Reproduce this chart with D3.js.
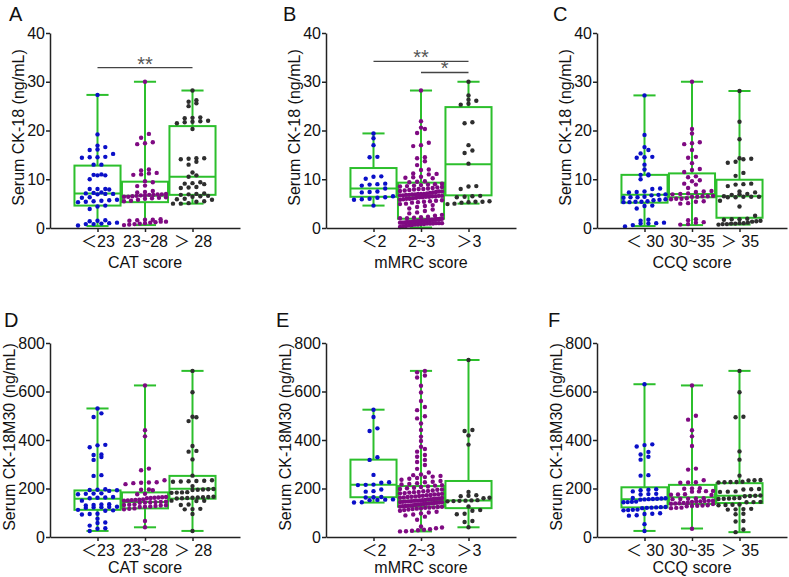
<!DOCTYPE html>
<html>
<head>
<meta charset="utf-8">
<script src="https://cdn.jsdelivr.net/npm/d3@7"></script>
<style>
  body { margin: 0; background: #fff; }
  text { font-family: "Liberation Sans", Arial, "Noto Sans CJK SC", sans-serif; }
</style>
</head>
<body>
<div id="chart"></div>
<script>
// Categories
const catCAT = ["＜23", "23~28", "＞ 28"];
const catMMRC = ["＜2", "2~3", "＞3"];
const catCCQ = ["＜ 30", "30~35", "＞ 35"];

const ticksCK18 = [0, 10, 20, 30, 40];
const ticksM30 = [0, 200, 400, 600, 800];

// Serum CK-18 by CAT score
const ck18CatLow = [27.3, 19.2, 16.9, 16.6, 16.1, 16.0, 15.2, 14.6, 14.5, 14.5, 14.4, 13.0, 13.0, 11.0, 10.9, 10.8, 10.8, 10.0, 8.0, 8.0, 8.0, 7.9, 7.3, 7.2, 7.1, 7.0, 7.0, 6.9, 6.3, 6.2, 5.8, 5.7, 5.6, 5.5, 5.4, 5.3, 4.6, 4.4, 3.9, 1.6, 1.5, 1.4, 1.1, 1.0, 0.9, 0.8, 0.8, 0.5];
const ck18CatMid = [30.0, 19.3, 18.5, 17.6, 17.4, 17.2, 12.0, 11.8, 11.3, 11.2, 11.0, 10.9, 9.6, 9.4, 8.7, 8.6, 7.6, 7.4, 7.3, 7.0, 6.9, 6.9, 6.8, 6.8, 6.7, 6.7, 6.6, 6.5, 6.4, 6.4, 6.3, 6.2, 6.1, 6.0, 5.8, 5.6, 5.5, 1.8, 1.7, 1.7, 1.6, 1.5, 1.3, 1.3, 1.2, 1.1, 1.0, 0.9, 0.8, 0.7, 0.6];
const ck18CatHigh = [28.2, 26.2, 25.9, 25.6, 25.0, 22.7, 22.6, 22.5, 22.0, 21.9, 21.8, 21.7, 21.5, 20.3, 14.3, 14.3, 14.2, 14.1, 13.6, 13.0, 11.4, 10.8, 10.5, 9.4, 9.2, 9.1, 9.0, 8.4, 8.3, 8.2, 7.1, 7.0, 6.9, 6.8, 6.6, 6.5, 6.4, 6.0, 5.9, 5.8, 5.5, 5.4, 5.1, 5.0, 5.0];

// Serum CK-18 by mMRC score
const ck18MrcLow = [19.4, 18.4, 17.0, 14.6, 14.5, 10.6, 10.5, 10.1, 9.1, 9.0, 8.9, 8.7, 8.1, 7.5, 7.4, 7.3, 6.5, 6.3, 6.2, 6.0, 5.9, 5.8, 4.6];
const ck18MrcMid = [28.2, 21.9, 20.6, 20.3, 19.5, 17.5, 17.0, 16.8, 14.5, 14.3, 13.7, 12.9, 12.0, 11.9, 11.2, 11.1, 11.0, 10.5, 10.4, 10.3, 10.2, 9.6, 9.5, 9.4, 9.1, 9.0, 8.9, 8.8, 8.7, 8.6, 8.5, 8.4, 8.3, 8.2, 8.1, 8.0, 8.0, 7.9, 7.8, 7.7, 7.6, 7.5, 7.5, 7.4, 7.3, 7.2, 7.1, 7.0, 7.0, 7.0, 6.9, 6.9, 6.8, 6.8, 6.7, 6.7, 6.6, 6.6, 6.5, 6.5, 6.4, 6.4, 6.3, 6.3, 6.2, 6.1, 6.0, 6.0, 5.9, 5.8, 5.7, 5.6, 5.5, 5.4, 5.3, 5.2, 5.0, 4.9, 4.7, 4.5, 4.3, 4.0, 3.8, 3.5, 3.2, 3.0, 2.7, 2.5, 2.3, 2.2, 2.1, 2.0, 2.0, 1.9, 1.9, 1.8, 1.8, 1.8, 1.7, 1.7, 1.7, 1.6, 1.6, 1.6, 1.5, 1.5, 1.5, 1.4, 1.4, 1.4, 1.3, 1.3, 1.3, 1.2, 1.2, 1.2, 1.2, 1.1, 1.1, 1.1, 1.1, 1.0, 1.0, 1.0, 0.9, 0.9, 0.9, 0.8, 0.8, 0.7, 0.7, 0.6, 0.5, 0.4, 0.3, 0.2];
const ck18MrcHigh = [30.0, 27.2, 26.3, 26.1, 25.5, 25.3, 21.7, 21.5, 17.0, 15.9, 15.4, 13.2, 8.6, 8.5, 8.0, 6.6, 6.5, 6.4, 6.3, 5.5, 5.4, 5.4, 5.3, 5.2, 5.0, 4.9];

// Serum CK-18 by CCQ score
const ck18CcqLow = [27.2, 19.1, 16.6, 16.0, 15.3, 14.6, 14.5, 14.4, 13.0, 12.0, 11.0, 10.9, 10.8, 10.0, 8.1, 8.0, 7.5, 7.4, 7.3, 6.9, 6.8, 6.7, 6.4, 6.3, 6.3, 6.2, 5.9, 5.8, 5.7, 5.5, 5.4, 5.4, 5.3, 5.3, 4.6, 4.5, 4.0, 1.7, 1.5, 1.1, 1.0, 0.9, 0.9, 0.6, 0.3];
const ck18CcqMid = [30.0, 20.3, 19.4, 17.6, 17.4, 17.2, 16.0, 14.6, 14.4, 13.3, 12.1, 11.9, 11.5, 10.6, 10.4, 9.8, 9.6, 9.1, 8.9, 8.2, 7.6, 7.5, 7.4, 7.1, 7.0, 6.9, 6.6, 6.5, 6.5, 6.4, 6.4, 6.1, 6.0, 6.0, 5.9, 5.5, 5.4, 5.1, 5.0, 1.8, 1.6, 1.2, 1.1, 0.8, 0.7];
const ck18CcqHigh = [28.1, 21.8, 18.2, 14.3, 14.2, 14.1, 13.6, 13.4, 11.3, 10.7, 9.1, 9.0, 8.9, 8.6, 7.5, 7.3, 7.0, 6.9, 6.8, 6.5, 6.4, 6.4, 6.4, 6.3, 6.3, 5.6, 4.4, 2.5, 1.9, 1.8, 1.8, 1.7, 1.5, 1.4, 1.3, 1.1, 1.0, 1.0, 0.9, 0.9, 0.8, 0.8, 0.7];

// Serum CK-18M30 by CAT score
const m30CatLow = [530, 510, 495, 380, 378, 370, 340, 338, 330, 318, 255, 252, 197, 195, 194, 193, 190, 180, 179, 178, 176, 165, 163, 162, 160, 150, 135, 134, 132, 130, 125, 124, 123, 122, 120, 112, 110, 108, 96, 95, 93, 75, 60, 58, 47, 36, 34, 25];
const m30CatMid = [625, 440, 415, 282, 275, 234, 226, 225, 224, 222, 218, 196, 195, 193, 178, 176, 165, 164, 163, 162, 161, 160, 155, 154, 153, 152, 151, 150, 146, 145, 144, 143, 142, 141, 134, 133, 132, 131, 130, 128, 126, 125, 124, 118, 116, 114, 66, 40];
const m30CatHigh = [685, 597, 496, 494, 478, 375, 355, 352, 320, 253, 234, 232, 231, 230, 229, 228, 210, 198, 197, 196, 195, 194, 185, 184, 183, 182, 166, 165, 164, 163, 162, 161, 160, 159, 150, 149, 148, 134, 132, 116, 115, 114, 95, 25];

// Serum CK-18M30 by mMRC score
const m30MrcLow = [525, 495, 448, 437, 329, 318, 256, 226, 224, 216, 215, 214, 196, 189, 187, 165, 164, 163, 155, 154, 153, 152, 143, 142];
const m30MrcMid = [685, 679, 666, 658, 624, 596, 561, 536, 523, 498, 489, 468, 441, 414, 396, 372, 363, 352, 338, 331, 318, 309, 297, 281, 266, 258, 255, 252, 249, 247, 243, 240, 236, 231, 228, 226, 222, 219, 217, 214, 212, 208, 206, 203, 201, 198, 196, 195, 192, 190, 189, 186, 185, 183, 181, 180, 178, 176, 175, 173, 172, 170, 169, 167, 166, 165, 163, 162, 161, 159, 158, 157, 156, 155, 153, 152, 151, 150, 149, 148, 147, 146, 145, 144, 143, 142, 141, 140, 139, 138, 137, 136, 135, 134, 133, 131, 130, 129, 128, 127, 126, 125, 124, 122, 121, 120, 118, 117, 115, 113, 111, 108, 104, 101, 97, 93, 89, 84, 71, 43, 39, 36, 32, 30, 28, 26, 24, 23];
const m30MrcHigh = [730, 441, 437, 419, 381, 186, 172, 170, 168, 162, 160, 152, 151, 150, 149, 148, 147, 126, 111, 108, 96, 94, 66, 62, 40];

// Serum CK-18M30 by CCQ score
const m30CcqLow = [630, 382, 379, 373, 351, 340, 331, 319, 255, 253, 197, 195, 193, 188, 178, 177, 175, 161, 160, 159, 158, 157, 156, 155, 154, 146, 145, 144, 143, 124, 123, 122, 121, 120, 119, 113, 112, 111, 110, 98, 96, 95, 90, 88, 53, 25];
const m30CcqMid = [625, 500, 484, 440, 415, 375, 282, 278, 234, 226, 225, 224, 201, 200, 199, 190, 189, 188, 187, 176, 175, 174, 173, 160, 159, 158, 157, 156, 150, 149, 148, 147, 146, 145, 141, 140, 139, 138, 137, 136, 131, 130, 129, 128, 127, 121, 120, 119, 34];
const m30CcqHigh = [685, 597, 496, 494, 353, 319, 253, 235, 234, 233, 228, 227, 227, 226, 225, 198, 197, 196, 188, 187, 186, 171, 170, 169, 168, 161, 160, 159, 158, 157, 145, 144, 143, 134, 133, 132, 131, 116, 115, 114, 113, 96, 94, 66, 64, 31, 20];

// Box stats [min, q1, median, q3, max]
const boxCk18Cat = [[0.4, 4.6, 7.1, 12.8, 27.3], [0.6, 5.3, 6.6, 9.5, 30.0], [5.0, 6.8, 10.5, 20.9, 28.2]];
const boxCk18Mrc = [[4.6, 6.4, 8.1, 12.3, 19.4], [0.1, 1.9, 6.6, 9.3, 28.2], [5.0, 6.7, 13.1, 24.8, 30.0]];
const boxCk18Ccq = [[0.4, 5.2, 6.8, 10.9, 27.2], [0.6, 6.3, 7.0, 11.2, 30.0], [0.7, 2.1, 6.5, 9.9, 28.1]];
const boxM30Cat = [[25, 112, 158, 192, 530], [40, 118, 144, 184, 625], [25, 158, 199, 252, 685]];
const boxM30Mrc = [[142, 164, 215, 319, 525], [23, 125, 150, 210, 685], [40, 119, 151, 231, 730]];
const boxM30Ccq = [[25, 122, 156, 205, 630], [35, 136, 164, 215, 625], [20, 140, 170, 222, 685]];

// Significance brackets [fromIndex, toIndex, value, label]
const sigCk18Cat = [[0, 2, 32.9, "**"]];
const sigCk18Mrc = [[0, 2, 34.2, "**"], [1, 2, 31.9, "*"]];

const groupColors = ["#0a0fc8", "#7f0a82", "#2e2e2e"];
const boxColor = "#2cbf2c";

const svg = d3.select("#chart").append("svg")
  .attr("width", 789).attr("height", 577);

const panels = [
  { letter: "A", lx: 9, ly: 21, x0: 50, top: 33, bottom: 228, yMax: 40, ticks: ticksCK18, cats: catCAT,
    groups: [ck18CatLow, ck18CatMid, ck18CatHigh], boxes: boxCk18Cat, sig: sigCk18Cat,
    yTitle: "Serum CK-18 (ng/mL)", xTitle: "CAT score", titleOff: 26.5, xTitleOff: 40 },
  { letter: "B", lx: 283, ly: 21, x0: 326, top: 33, bottom: 228, yMax: 40, ticks: ticksCK18, cats: catMMRC,
    groups: [ck18MrcLow, ck18MrcMid, ck18MrcHigh], boxes: boxCk18Mrc, sig: sigCk18Mrc,
    yTitle: "Serum CK-18 (ng/mL)", xTitle: "mMRC score", titleOff: 26.5, xTitleOff: 40 },
  { letter: "C", lx: 553, ly: 21, x0: 597, top: 33, bottom: 228, yMax: 40, ticks: ticksCK18, cats: catCCQ,
    groups: [ck18CcqLow, ck18CcqMid, ck18CcqHigh], boxes: boxCk18Ccq, sig: [],
    yTitle: "Serum CK-18 (ng/mL)", xTitle: "CCQ score", titleOff: 26.5, xTitleOff: 40 },
  { letter: "D", lx: 4, ly: 327, x0: 50, top: 343, bottom: 537, yMax: 800, ticks: ticksM30, cats: catCAT,
    groups: [m30CatLow, m30CatMid, m30CatHigh], boxes: boxM30Cat, sig: [],
    yTitle: "Serum CK-18M30 (ng/mL)", xTitle: "CAT score", titleOff: 35.5, xTitleOff: 36 },
  { letter: "E", lx: 276, ly: 327, x0: 326, top: 343, bottom: 537, yMax: 800, ticks: ticksM30, cats: catMMRC,
    groups: [m30MrcLow, m30MrcMid, m30MrcHigh], boxes: boxM30Mrc, sig: [],
    yTitle: "Serum CK-18M30 (ng/mL)", xTitle: "mMRC score", titleOff: 35.5, xTitleOff: 36 },
  { letter: "F", lx: 548, ly: 327, x0: 597, top: 343, bottom: 537, yMax: 800, ticks: ticksM30, cats: catCCQ,
    groups: [m30CcqLow, m30CcqMid, m30CcqHigh], boxes: boxM30Ccq, sig: [],
    yTitle: "Serum CK-18M30 (ng/mL)", xTitle: "CCQ score", titleOff: 35.5, xTitleOff: 36 }
];

const plotW = 190;
const BIN = 4.2, GAP = 7.8, MAXW = 42, R = 2.2;

// rows of near-equal values, spread sideways like a column scatter
function swarm(values, y, cx) {
  const pts = values.map(v => ({ v: v, y: y(v) })).sort((a, b) => b.y - a.y);
  const rows = [];
  let cur = null;
  pts.forEach(p => {
    if (!cur || Math.abs(p.y - cur[0].y) > BIN) { cur = [p]; rows.push(cur); }
    else cur.push(p);
  });
  rows.forEach(r => {
    const n = r.length;
    const s = n > 1 ? Math.min(GAP, MAXW / (n - 1)) : 0;
    r.forEach((p, i) => { p.x = cx + (i - (n - 1) / 2) * s; });
  });
  return pts;
}

panels.forEach(p => {
  const g = svg.append("g");
  const x = d3.scalePoint().domain(p.cats).range([p.x0, p.x0 + plotW]).padding(1);
  const y = d3.scaleLinear().domain([0, p.yMax]).range([p.bottom, p.top]);
  const bw = x.step() * 0.97;

  //------------------------- BOXES -------------------------//
  p.boxes.forEach((b, i) => {
    const cx = x(p.cats[i]);
    const bg = g.append("g")
      .attr("fill", "none").attr("stroke", boxColor).attr("stroke-width", 2);
    bg.append("line").attr("x1", cx).attr("x2", cx).attr("y1", y(b[0])).attr("y2", y(b[1]));
    bg.append("line").attr("x1", cx).attr("x2", cx).attr("y1", y(b[3])).attr("y2", y(b[4]));
    bg.append("line").attr("x1", cx - bw * 0.24).attr("x2", cx + bw * 0.24).attr("y1", y(b[0])).attr("y2", y(b[0]));
    bg.append("line").attr("x1", cx - bw * 0.24).attr("x2", cx + bw * 0.24).attr("y1", y(b[4])).attr("y2", y(b[4]));
    bg.append("rect").attr("x", cx - bw / 2).attr("width", bw)
      .attr("y", y(b[3])).attr("height", y(b[1]) - y(b[3]));
    bg.append("line").attr("x1", cx - bw / 2).attr("x2", cx + bw / 2).attr("y1", y(b[2])).attr("y2", y(b[2]));
  });

  //------------------------- POINTS ------------------------//
  p.groups.forEach((vals, i) => {
    const pts = swarm(vals, y, x(p.cats[i]));
    g.append("g").selectAll("circle").data(pts).enter().append("circle")
      .attr("cx", d => d.x).attr("cy", d => d.y).attr("r", R)
      .attr("fill", groupColors[i]);
  });

  //-------------------------- AXES -------------------------//
  const ya = g.append("g").attr("transform", `translate(${p.x0},0)`)
    .call(d3.axisLeft(y).tickValues(p.ticks).tickSize(4).tickSizeOuter(0).tickPadding(1));
  const xa = g.append("g").attr("transform", `translate(0,${p.bottom})`)
    .call(d3.axisBottom(x).tickSize(4).tickSizeOuter(0).tickPadding(4));
  [ya, xa].forEach(a => {
    a.selectAll("path, line").attr("stroke", "#222").attr("stroke-width", 1.5);
    a.selectAll("text").attr("font-size", 16).attr("fill", "#111")
      .attr("font-family", "'Liberation Sans', Arial, 'Noto Sans CJK SC', sans-serif");
  });

  // titles
  g.append("text")
    .attr("transform", `translate(${p.x0 - p.titleOff},${(p.top + p.bottom) / 2 - 3}) rotate(-90)`)
    .attr("text-anchor", "middle").attr("font-size", 16).attr("fill", "#111")
    .text(p.yTitle);
  g.append("text")
    .attr("x", x(p.cats[1])).attr("y", p.bottom + p.xTitleOff)
    .attr("text-anchor", "middle").attr("font-size", 16).attr("fill", "#111")
    .text(p.xTitle);
  g.append("text")
    .attr("x", p.lx).attr("y", p.ly)
    .attr("font-size", 20).attr("fill", "#111")
    .text(p.letter);

  //---------------------- SIGNIFICANCE ---------------------//
  p.sig.forEach(s => {
    const x1 = x(p.cats[s[0]]), x2 = x(p.cats[s[1]]), yy = y(s[2]);
    g.append("line").attr("x1", x1).attr("x2", x2).attr("y1", yy).attr("y2", yy)
      .attr("stroke", "#444").attr("stroke-width", 1.3);
    g.append("text").attr("x", (x1 + x2) / 2).attr("y", yy + 3)
      .attr("text-anchor", "middle").attr("font-size", 20).attr("fill", "#555")
      .text(s[3]);
  });
});
</script>
</body>
</html>
